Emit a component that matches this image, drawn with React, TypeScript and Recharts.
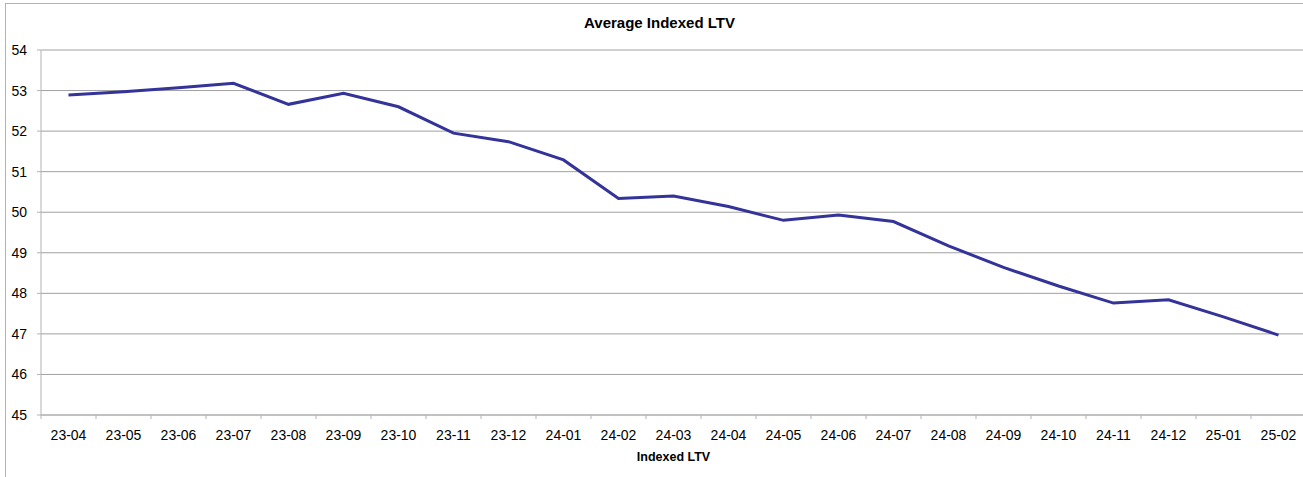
import React from 'react';
import { LineChart, Line, XAxis, YAxis, CartesianGrid, Label } from 'recharts';

const months = [
  '23-04', '23-05', '23-06', '23-07', '23-08', '23-09', '23-10', '23-11', '23-12',
  '24-01', '24-02', '24-03', '24-04', '24-05', '24-06', '24-07', '24-08', '24-09',
  '24-10', '24-11', '24-12', '25-01', '25-02',
];
const indexedLtv = [
  52.89, 52.97, 53.07, 53.18, 52.66, 52.93, 52.6, 51.95, 51.74,
  51.29, 50.34, 50.4, 50.14, 49.8, 49.93, 49.77, 49.17, 48.64,
  48.18, 47.76, 47.84, 47.42, 46.97,
];
const yTicks = [45, 46, 47, 48, 49, 50, 51, 52, 53, 54];

const data = months.map((m, i) => ({ month: m, ltv: indexedLtv[i] }));

const CHART_W = 1306;
const CHART_H = 477;
const PLOT_LEFT = 41;
const PLOT_BOTTOM = 415;
const BAND = (CHART_W - PLOT_LEFT) / months.length;
const FONT = '"Liberation Sans", Arial, sans-serif';

const MonthTick = (props: any) => {
  const { x, payload } = props;
  const left = x - BAND / 2;
  return (
    <g>
      <line x1={left} y1={PLOT_BOTTOM} x2={left} y2={PLOT_BOTTOM + 4} stroke="#b3b3b3" />
      <text x={x} y={PLOT_BOTTOM + 25} textAnchor="middle" fontSize={14} fill="#000" fontFamily={FONT}>
        {payload.value}
      </text>
    </g>
  );
};

export default function App() {
  return (
    <div style={{ position: 'absolute', left: 0, top: 0, width: 1303, height: 477, overflow: 'hidden', background: '#fff' }}>
      <div style={{ position: 'absolute', left: 5, top: 3, width: 1400, height: 600, borderTop: '1px solid #b3b3b3', borderLeft: '1px solid #b3b3b3' }} />
      <div style={{ position: 'absolute', left: 0, top: 14, width: 1319, textAlign: 'center', fontFamily: FONT, fontWeight: 'bold', fontSize: 15 }}>
        Average Indexed LTV
      </div>
      <div style={{ position: 'absolute', left: 0, top: 0 }}>
        <LineChart width={CHART_W} height={CHART_H} data={data} margin={{ top: 50, right: 0, bottom: 32, left: 0 }}>
          <CartesianGrid vertical={false} stroke="#a0a0a0" />
          <XAxis
            dataKey="month"
            interval={0}
            height={30}
            padding={{ left: BAND / 2, right: BAND / 2 }}
            tickLine={false}
            stroke="#b3b3b3"
            tick={<MonthTick />}
          >
            <Label value="Indexed LTV" position="bottom" offset={7} style={{ fontFamily: FONT, fontWeight: 'bold', fontSize: 12.5, fill: '#000' }} />
          </XAxis>
          <YAxis
            width={PLOT_LEFT}
            domain={[45, 54]}
            ticks={yTicks}
            interval={0}
            tickSize={4}
            tickMargin={10}
            stroke="#b3b3b3"
            tick={{ fill: '#000', fontSize: 14, fontFamily: FONT }}
          />
          <Line
            type="linear"
            dataKey="ltv"
            stroke="#333399"
            strokeWidth={3}
            dot={false}
            isAnimationActive={false}
          />
        </LineChart>
      </div>
    </div>
  );
}
